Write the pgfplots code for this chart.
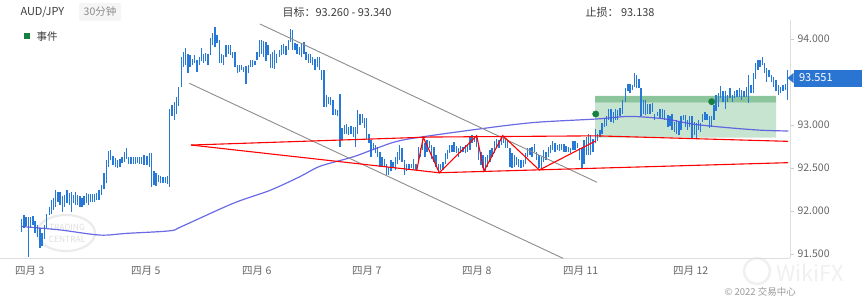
\documentclass[border=0pt]{standalone}
\usepackage{fontspec}
\setmainfont{Noto Sans CJK SC}
\usepackage{pgfplots}
\usepackage{pgfplotstable}
\pgfplotsset{compat=1.18}
\definecolor{barblue}{RGB}{38,121,214}
\definecolor{mablue}{RGB}{80,80,225}
\definecolor{rectdark}{RGB}{140,196,156}
\definecolor{rectlight}{RGB}{198,228,208}
\definecolor{dotgreen}{RGB}{22,128,62}
\definecolor{pblue}{RGB}{42,116,210}
\definecolor{txtgray}{RGB}{102,102,102}
\definecolor{hdrgray}{RGB}{60,60,60}

\pgfplotstableread{
x lo hi
21.7 91.76 91.91
24.0 91.80 91.95
26.0 91.82 91.93
28.3 91.47 91.93
30.7 91.80 91.93
33.0 91.84 91.94
35.0 91.74 91.88
37.3 91.70 91.84
40.0 91.57 91.80
42.0 91.59 91.74
44.3 91.68 91.84
46.3 91.80 91.97
49.3 91.95 92.05
51.3 91.97 92.13
53.3 92.01 92.15
55.7 92.05 92.24
58.0 92.11 92.22
60.0 92.07 92.22
62.3 91.99 92.17
64.7 92.05 92.19
67.0 92.09 92.25
69.3 92.07 92.21
71.3 91.99 92.22
73.3 92.09 92.19
75.3 92.07 92.22
77.7 92.07 92.19
80.0 92.05 92.17
82.0 92.05 92.15
84.0 92.07 92.17
86.3 92.09 92.21
88.3 92.07 92.20
90.7 92.11 92.20
92.7 92.11 92.20
94.7 92.11 92.20
96.7 92.13 92.21
99.0 92.13 92.24
101.7 92.19 92.30
104.0 92.26 92.44
106.7 92.32 92.59
108.7 92.51 92.70
110.7 92.59 92.71
113.0 92.53 92.64
115.3 92.51 92.62
117.7 92.50 92.59
120.0 92.51 92.61
122.0 92.56 92.63
124.3 92.57 92.69
126.7 92.61 92.73
128.7 92.55 92.63
131.0 92.55 92.63
133.3 92.55 92.63
135.3 92.55 92.63
137.3 92.56 92.63
139.7 92.55 92.63
141.7 92.55 92.63
144.0 92.53 92.65
147.0 92.53 92.64
149.3 92.51 92.67
151.7 92.28 92.67
154.0 92.30 92.46
156.0 92.29 92.44
158.3 92.34 92.42
160.7 92.32 92.41
163.0 92.33 92.40
165.3 92.32 92.40
167.3 92.31 92.41
169.7 92.28 93.19
172.0 93.10 93.23
174.3 93.06 93.27
176.7 93.13 93.33
178.7 93.22 93.44
181.3 93.44 93.79
183.3 93.68 93.85
185.7 93.70 93.89
188.0 93.60 93.83
190.0 93.68 93.81
192.3 93.70 93.77
194.7 93.72 93.81
197.0 93.62 93.76
199.3 93.70 93.79
201.3 93.74 93.89
203.3 93.72 93.83
205.7 93.74 93.84
208.0 93.70 93.83
210.3 93.81 94.01
212.7 93.93 94.07
215.0 93.91 94.14
217.0 93.95 94.05
219.3 93.72 93.99
221.3 93.72 93.83
223.7 93.70 93.81
226.0 93.79 93.93
228.3 93.83 93.93
230.7 93.81 93.93
232.7 93.78 93.85
235.0 93.68 93.85
237.3 93.60 93.70
239.3 93.62 93.70
241.7 93.64 93.70
243.7 93.62 93.68
246.0 93.48 93.69
248.3 93.60 93.70
250.3 93.68 93.76
252.7 93.68 93.76
255.0 93.70 93.75
257.0 93.76 93.85
259.3 93.79 93.99
261.7 93.83 93.99
263.7 93.79 93.98
266.0 93.74 93.97
268.0 93.81 93.93
270.3 93.66 93.83
272.7 93.66 93.85
274.7 93.65 93.87
276.7 93.72 93.83
279.3 93.79 93.87
281.3 93.81 93.93
283.7 93.83 93.94
286.0 93.81 93.92
288.3 93.87 93.99
290.7 93.97 94.12
292.7 93.87 94.10
295.0 93.87 93.95
297.0 93.83 93.94
299.3 93.81 93.91
301.7 93.79 93.94
304.0 93.83 93.97
306.0 93.76 93.85
308.3 93.72 93.83
310.7 93.72 93.83
312.7 93.70 93.79
315.0 93.64 93.77
317.3 93.68 93.79
319.7 93.64 93.79
321.7 93.52 93.64
324.0 93.21 93.64
326.3 93.21 93.35
328.3 93.25 93.33
330.7 93.23 93.33
333.0 93.12 93.29
335.3 93.12 93.19
337.7 93.10 93.18
340.0 92.75 93.36
342.0 92.82 92.96
344.3 92.90 93.00
346.3 92.90 93.01
348.7 92.88 92.98
351.0 92.90 92.99
353.3 92.86 92.98
355.3 92.75 92.98
357.7 92.90 93.17
360.0 93.00 93.13
362.3 93.02 93.13
364.7 92.96 93.08
366.7 92.84 93.08
369.0 92.79 92.90
371.0 92.63 92.82
373.3 92.71 92.79
375.7 92.67 92.77
377.7 92.63 92.75
380.0 92.51 92.69
382.0 92.51 92.63
384.3 92.51 92.60
386.7 92.42 92.55
388.7 92.42 92.51
391.0 92.46 92.59
393.0 92.50 92.57
395.3 92.48 92.63
397.3 92.55 92.69
399.7 92.59 92.77
402.0 92.57 92.73
404.5 92.42 92.59
406.7 92.46 92.55
409.0 92.48 92.55
411.3 92.50 92.55
413.7 92.48 92.61
416.0 92.48 92.55
418.3 92.57 92.75
420.7 92.63 92.73
422.7 92.71 92.84
425.0 92.63 92.79
427.0 92.69 92.82
429.3 92.73 92.81
431.7 92.61 92.77
434.0 92.57 92.75
436.0 92.51 92.65
438.3 92.46 92.55
440.7 92.48 92.55
443.0 92.48 92.57
445.3 92.55 92.67
447.3 92.61 92.71
449.7 92.67 92.77
452.0 92.69 92.77
454.0 92.69 92.80
456.3 92.67 92.76
458.3 92.63 92.73
460.7 92.67 92.76
463.0 92.69 92.75
465.3 92.67 92.77
467.7 92.69 92.77
470.0 92.71 92.87
472.0 92.79 92.88
474.3 92.80 92.87
476.3 92.75 92.88
478.7 92.59 92.79
481.0 92.53 92.69
483.0 92.50 92.65
485.3 92.46 92.63
487.7 92.51 92.65
490.0 92.57 92.71
492.0 92.63 92.73
494.3 92.67 92.81
496.7 92.73 92.84
499.0 92.73 92.82
501.3 92.77 92.86
503.3 92.79 92.86
505.3 92.73 92.84
507.7 92.73 92.81
510.0 92.51 92.73
512.0 92.50 92.67
514.3 92.51 92.65
516.7 92.53 92.63
518.7 92.51 92.61
521.0 92.50 92.59
523.3 92.51 92.59
525.3 92.55 92.67
527.7 92.63 92.73
530.0 92.65 92.73
532.0 92.63 92.75
534.3 92.69 92.78
536.7 92.59 92.69
539.0 92.50 92.65
541.3 92.50 92.63
543.7 92.57 92.71
546.0 92.59 92.69
548.3 92.63 92.75
550.7 92.67 92.77
552.7 92.71 92.81
555.0 92.69 92.79
557.3 92.71 92.77
559.3 92.70 92.78
561.7 92.71 92.78
564.0 92.69 92.78
566.0 92.69 92.76
568.3 92.69 92.75
570.7 92.67 92.73
573.0 92.71 92.81
575.0 92.71 92.81
577.3 92.73 92.79
579.7 92.59 92.73
582.0 92.50 92.73
584.0 92.55 92.82
586.3 92.65 92.86
588.7 92.65 92.90
590.7 92.65 92.88
593.0 92.69 92.84
595.3 92.79 92.95
597.7 92.81 92.90
600.0 92.86 92.94
602.0 92.90 93.02
604.3 92.98 93.08
606.7 92.99 93.10
608.7 93.06 93.19
611.0 93.04 93.19
613.3 93.02 93.15
615.7 93.06 93.19
617.7 93.06 93.17
620.0 93.10 93.20
622.5 93.13 93.29
625.7 93.27 93.43
628.0 93.39 93.48
630.0 93.37 93.48
632.3 93.41 93.46
634.7 93.44 93.60
636.7 93.43 93.58
639.0 93.43 93.54
641.0 93.10 93.43
643.3 93.13 93.29
645.7 93.12 93.29
647.7 93.13 93.25
650.0 93.13 93.25
652.3 93.15 93.26
654.8 93.06 93.13
657.7 93.10 93.15
660.0 93.08 93.19
662.3 93.08 93.19
664.7 93.06 93.17
668.0 92.98 93.12
670.0 92.99 93.10
672.0 92.94 93.13
674.3 92.92 93.04
676.7 92.90 93.06
679.0 92.88 93.04
681.0 92.94 93.10
683.3 93.06 93.12
685.3 92.98 93.12
687.3 92.94 93.06
689.7 92.98 93.10
692.0 92.85 93.10
694.3 92.88 93.04
696.7 92.85 93.02
698.7 92.94 93.06
700.7 92.92 93.02
702.7 93.04 93.13
705.0 93.06 93.15
707.0 93.06 93.13
709.3 92.96 93.10
711.7 92.98 93.10
714.0 93.06 93.23
716.0 93.16 93.35
718.3 93.21 93.37
720.7 93.31 93.45
723.0 93.27 93.39
725.3 93.19 93.39
727.7 93.27 93.35
730.0 93.31 93.43
732.3 93.27 93.35
734.7 93.31 93.39
737.0 93.33 93.41
739.3 93.33 93.43
741.7 93.29 93.41
744.0 93.33 93.39
746.3 93.33 93.44
748.7 93.26 93.58
751.0 93.37 93.47
753.3 93.37 93.60
755.7 93.54 93.72
758.0 93.64 93.76
760.0 93.68 93.76
762.3 93.70 93.79
764.7 93.60 93.72
766.7 93.50 93.66
769.0 93.56 93.64
771.3 93.50 93.58
773.7 93.44 93.56
776.0 93.39 93.52
778.3 93.35 93.47
780.7 93.37 93.44
783.0 93.39 93.47
785.3 93.41 93.48
787.7 93.29 93.64
}\bars

\begin{document}
\begin{tikzpicture}
\useasboundingbox (0pt,0pt) rectangle (862pt,-306pt);
% watermarks (behind)
\draw[black!8, line width=2.2pt] (66pt,-233pt) ellipse [x radius=29pt, y radius=18pt];
\node[text=black!13, font=\fontsize{8.5}{9}\selectfont] at (67pt,-227pt) {TRADING};
\node[text=black!13, font=\fontsize{8.5}{9}\selectfont] at (67pt,-239pt) {CENTRAL};
\draw[black!6, line width=2.5pt] (757pt,-271pt) circle [radius=13pt];
\node[text=black!6, anchor=west, inner sep=0pt, font=\fontsize{22}{22}\selectfont] at (776pt,-273pt) {WikiFX};

\begin{axis}[
  at={(0pt,-258pt)}, anchor=south west, scale only axis,
  width=790pt, height=238pt,
  xmin=0, xmax=790, ymin=91.4535, ymax=94.2209,
  axis x line*=bottom, axis y line*=right,
  axis line style={draw=black!13},
  xtick={15,131,242,352,462,563,673},
  xticklabels={四月 3,四月 5,四月 6,四月 7,四月 8,四月 11,四月 12},
  x tick style={draw=none},
  xticklabel style={anchor=north west, inner xsep=0pt, yshift=-1pt, text=txtgray, font=\fontsize{10.5}{12}\selectfont},
  ytick={91.5,92,92.5,93,94},
  y tick style={draw=black!20},
  tick align=outside, major tick length=4pt,
  yticklabel style={text=txtgray, font=\fontsize{10.5}{12}\selectfont,
    /pgf/number format/fixed, /pgf/number format/fixed zerofill,
    /pgf/number format/precision=3, /pgf/number format/assume math mode=true},
  clip=true,
]
% target / stop zone
\addplot[fill=rectlight, draw=none, forget plot] coordinates {(595,92.852) (776,92.852) (776,93.26) (595,93.26) (595,92.852)};
\addplot[fill=rectdark, draw=none, forget plot] coordinates {(595,93.26) (776,93.26) (776,93.34) (595,93.34) (595,93.26)};
% bars (high-low)
\addplot[draw=none, mark=none, forget plot,
  error bars/.cd, y dir=plus, y explicit, error mark=none,
  error bar style={draw=barblue, line width=1.05pt}]
  table[x=x, y=lo, y error expr=\thisrow{hi}-\thisrow{lo}] {\bars};
% moving average
\addplot[mablue, line width=1.2pt, opacity=0.85, smooth, forget plot] coordinates {
(21.7,91.82) (60,91.78) (100,91.72) (126.7,91.74) (170,91.77) (181.7,91.82)
(233.3,92.09) (270,92.24) (300,92.40) (320,92.52) (353.3,92.63) (376.7,92.73)
(405,92.83) (483.3,92.96) (535,93.03) (596.7,93.07) (630,93.10) (665,93.07)
(693.3,93.01) (726.7,92.97) (760,92.94) (788.3,92.93)};
% gray channel
\addplot[black!45, line width=0.9pt, forget plot] coordinates {(260,94.174) (597,92.334)};
\addplot[black!45, line width=0.9pt, forget plot] coordinates {(189.3,93.485) (563,91.45)};
% red triangle lines
\addplot[red, line width=1.1pt, forget plot] coordinates {(191,92.767) (430,92.860) (596,92.874) (788,92.810)};
\addplot[red, line width=1.1pt, forget plot] coordinates {(191,92.767) (439,92.445) (788,92.562)};
\addplot[red, line width=1.1pt, forget plot] coordinates {(416.7,92.469) (423.3,92.857) (439.3,92.445) (476.7,92.876) (484,92.465) (502.7,92.876) (539.3,92.477) (596,92.817)};
% events
\addplot[only marks, mark=*, mark size=3.2pt, color=dotgreen, forget plot] coordinates {(595.7,93.128) (711.7,93.271)};
\end{axis}

% header
\node[anchor=west, text=hdrgray, font=\fontsize{11}{13}\selectfont] at (17pt,-12pt) {AUD/JPY};
\node[fill=black!4, rounded corners=2pt, text=black!45, minimum width=42pt, minimum height=18pt, inner sep=1pt, font=\fontsize{10.5}{12}\selectfont] at (100pt,-12pt) {30分钟};
\node[anchor=west, text=hdrgray, font=\fontsize{11}{13}\selectfont] at (279pt,-12pt) {目标：93.260 - 93.340};
\node[anchor=west, text=hdrgray, font=\fontsize{11}{13}\selectfont] at (582pt,-12pt) {止损：\ 93.138};
\fill[dotgreen] (24pt,-32.5pt) rectangle (30pt,-38.5pt);
\node[anchor=west, text=hdrgray, font=\fontsize{10.5}{12}\selectfont] at (33pt,-36.5pt) {事件};
% last price label
\fill[pblue] (787.5pt,-78pt) -- (793.5pt,-73pt) -- (793.5pt,-83pt) -- cycle;
\fill[pblue] (793.5pt,-69.5pt) rectangle (862pt,-86.5pt);
\node[anchor=west, text=white, font=\fontsize{11}{13}\selectfont] at (795.5pt,-78pt) {93.551};
% copyright
\node[anchor=west, text=black!40, font=\fontsize{9.5}{11}\selectfont] at (721pt,-292pt) {© 2022 交易中心};
\end{tikzpicture}
\end{document}
